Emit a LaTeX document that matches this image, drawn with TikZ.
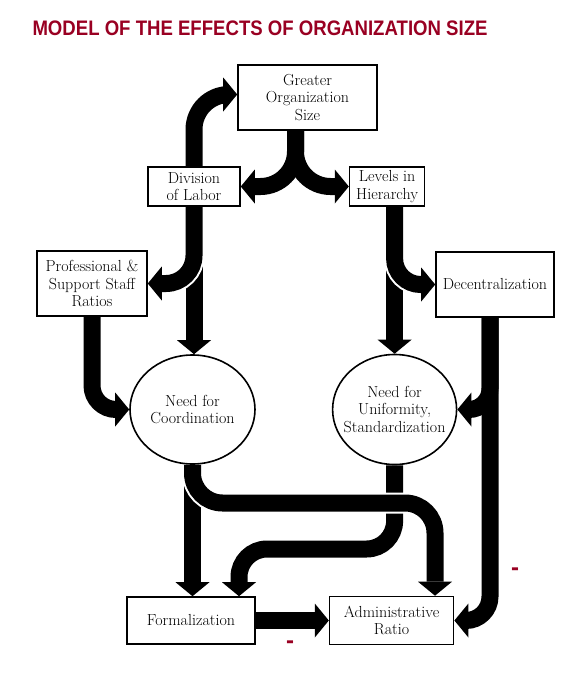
\documentclass[tikz,border=0pt]{standalone}
\usepackage{fontspec}
\newfontfamily\titlefont{Liberation Sans}
\usetikzlibrary{arrows.meta,positioning,shapes.geometric}
\definecolor{titlered}{RGB}{153,0,34}
\pgfdeclarelayer{bg}
\pgfsetlayers{bg,main}
\tikzset{
    box/.style={draw,line width=1.6pt,align=center,inner sep=0pt,font=\fontsize{16}{17.5}\selectfont},
    blob/.style={ellipse,draw,line width=1.6pt,align=center,inner sep=-8pt,font=\fontsize{16}{17.5}\selectfont},
    fat/.style={-{Triangle[width=34pt,length=14pt,line width=0pt]},line width=17pt},
    fatw/.style={fat,preaction={draw=white,line width=21pt,-{Triangle[width=34pt,length=14pt,line width=0pt]}}},
    minus/.style={text=titlered,font=\titlefont\bfseries\fontsize{24}{24}\selectfont}
}

\begin{document}
\begin{tikzpicture}[x=1pt,y=-1pt]
    \useasboundingbox (0,0) rectangle (586,678);
    \node[text=titlered,font=\titlefont\bfseries\fontsize{21}{21}\selectfont] (title) at (260,28) {\scalebox{0.885}[1]{MODEL OF THE EFFECTS OF ORGANIZATION SIZE}};
    \node[box,minimum width=139pt,minimum height=65pt] (size) at (307.5,97.5) {Greater\\Organization\\Size};
    \node[box,minimum width=92pt,minimum height=39pt] (labor) at (194,186.5) {Division\\of Labor};
    \node[box,minimum width=75pt,minimum height=39pt] (levels) [right=108pt of labor] {Levels in\\Hierarchy};
    \node[box,minimum width=110pt,minimum height=65pt] (staff) at (92,283.5) {Professional \&\\Support Staff\\Ratios};
    \node[box,minimum width=118pt,minimum height=65pt] (decent) at (495,284.5) {Decentralization};
    \node[blob,minimum width=125pt,minimum height=109pt] (coord) at (192.5,409.5) {Need for\\Coordination};
    \node[blob,minimum width=124pt,minimum height=110pt] (unif) [right=76pt of coord] {Need for\\Uniformity,\\Standardization};
    \node[box,minimum width=128pt,minimum height=47pt] (formal) at (191,620.5) {Formalization};
    \node[box,minimum width=124pt,minimum height=48pt] (admin) [right=73pt of formal] {Administrative\\Ratio};
    \node[minus] (minusa) at (515,572) {-};
    \node[minus] (minusb) at (290,645) {-};

    \begin{pgfonlayer}{bg}
        % back up to size
        \draw[fat,rounded corners=35pt] (labor.north) |- ([yshift=3pt]size.west);
        % size splits in two
        \coordinate (fork) at ([xshift=-12pt]size.south);
        \draw[fat,rounded corners=35pt] (fork) |- (labor.east);
        \draw[fat,rounded corners=35pt] (fork) |- (levels.west);
        % from division of labor
        \draw[fat] (labor.south) -- (labor.south |- coord.north);
        \draw[fatw,rounded corners=28pt] (labor.south) |- (staff.east);
        \draw[fat,rounded corners=24pt] (staff.south) |- (coord.west);
        % from levels
        \coordinate (lv) at (unif.north |- levels.south);
        \draw[fat] (lv) -- (unif.north);
        \draw[fatw,rounded corners=26pt] (lv) |- (decent.west);
        % from decentralization
        \coordinate (dc) at ([xshift=-5pt]decent.south);
        \draw[fat,rounded corners=21pt] (dc) |- (unif.east);
        \draw[fat,rounded corners=24pt] (dc) |- (admin.east);
        % down to the bottom row
        \coordinate (fbend) at (239,549);
        \coordinate (abend) at (435,503);
        \draw[fat] (coord.south) -- (coord.south |- formal.north);
        \draw[fat,rounded corners=28pt] (unif.south) |- (fbend) -- (fbend |- formal.north);
        \draw[fatw,rounded corners=30pt] (coord.south) |- (abend) -- (abend |- admin.north);
        \draw[fat] (formal.east) -- (admin.west);
    \end{pgfonlayer}
\end{tikzpicture}
\end{document}
